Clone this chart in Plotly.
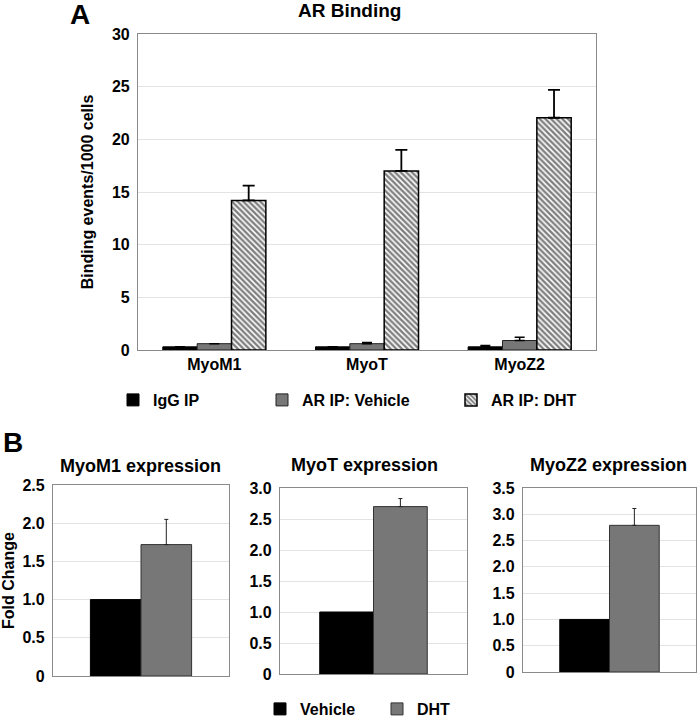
import plotly.graph_objects as go

W, H = 697, 720

# ---------------- data ----------------
genes = ["MyoM1", "MyoT", "MyoZ2"]
igg_ip = [0.3, 0.3, 0.3]
igg_err = [0.0, 0.0, 0.12]
ar_vehicle = [0.6, 0.6, 0.9]
ar_vehicle_err = [0.0, 0.12, 0.3]
ar_dht = [14.2, 17.0, 22.05]
ar_dht_err = [1.4, 2.0, 2.65]
a_ticks = [0, 5, 10, 15, 20, 25, 30]

expr_titles = ["MyoM1 expression", "MyoT expression", "MyoZ2 expression"]
expr_vehicle = [1.0, 1.0, 1.0]
expr_dht = [1.72, 2.70, 2.79]
expr_dht_err = [0.33, 0.13, 0.32]
expr_ymax = [2.5, 3.0, 3.5]
expr_ticks = [[0, 0.5, 1.0, 1.5, 2.0, 2.5],
              [0, 0.5, 1.0, 1.5, 2.0, 2.5, 3.0],
              [0, 0.5, 1.0, 1.5, 2.0, 2.5, 3.0, 3.5]]
expr_ticktext = [["0" if v == 0 else f"{v:.1f}" for v in t] for t in expr_ticks]

FONT = "Liberation Sans, Arial, sans-serif"
GRID = "#e3e3e3"
AXLINE = "#8a8a8a"
GRAY = "#777777"


def px_x(p):
    return p / W


def px_y(p):
    return 1 - p / H


fig = go.Figure()

# ---------------- Panel A ----------------
fig.add_trace(go.Bar(
    x=genes, y=igg_ip, name="IgG IP", legend="legend",
    marker=dict(color="black", line=dict(color="black", width=1)),
    error_y=dict(type="data", array=igg_err, arrayminus=[0] * 3, symmetric=False,
                 color="black", thickness=1.5, width=5),
    xaxis="x", yaxis="y"))
fig.add_trace(go.Bar(
    x=genes, y=ar_vehicle, name="AR IP: Vehicle", legend="legend2",
    marker=dict(color=GRAY, line=dict(color="#222", width=1)),
    error_y=dict(type="data", array=ar_vehicle_err, arrayminus=[0] * 3, symmetric=False,
                 color="black", thickness=1.5, width=5),
    xaxis="x", yaxis="y"))
fig.add_trace(go.Bar(
    x=genes, y=ar_dht, name="AR IP: DHT", legend="legend3",
    marker=dict(color="white", line=dict(color="black", width=1.5),
                pattern=dict(shape="\\", fgcolor="black", bgcolor="white",
                             size=4, solidity=0.6)),
    error_y=dict(type="data", array=ar_dht_err, arrayminus=[0] * 3, symmetric=False,
                 color="black", thickness=1.8, width=6),
    xaxis="x", yaxis="y"))

# ---------------- Panel B ----------------
b_domains_x = [[53, 229], [280, 467], [523, 696]]
b_domains_y = [[485, 676], [488, 674], [488, 672]]
for i in range(3):
    ax = str(i + 2)
    fig.add_trace(go.Bar(
        x=[expr_titles[i]], y=[expr_vehicle[i]], name="Vehicle",
        legend="legend4", showlegend=(i == 0),
        marker=dict(color="black", line=dict(color="black", width=1)),
        xaxis="x" + ax, yaxis="y" + ax))
    fig.add_trace(go.Bar(
        x=[expr_titles[i]], y=[expr_dht[i]], name="DHT",
        legend="legend5", showlegend=(i == 0),
        marker=dict(color=GRAY, line=dict(color="#333", width=1)),
        error_y=dict(type="data", array=[expr_dht_err[i]], arrayminus=[0], symmetric=False,
                     color="#222", thickness=1, width=2),
        xaxis="x" + ax, yaxis="y" + ax))

tickfont = dict(family=FONT, size=16, color="black", weight="bold")

layout = dict(
    width=W, height=H,
    margin=dict(l=0, r=0, t=0, b=0, autoexpand=False),
    paper_bgcolor="white", plot_bgcolor="white",
    showlegend=True,
    barmode="group", bargap=0.325, bargroupgap=0,
    font=dict(family=FONT, color="black"),
    xaxis=dict(domain=[px_x(138), px_x(596)], anchor="y", automargin=False,
               showline=True, linecolor=AXLINE, linewidth=1.2, mirror=True,
               ticks="", tickfont=tickfont, showgrid=False, fixedrange=True),
    yaxis=dict(domain=[px_y(350), px_y(34)], anchor="x", range=[0, 30], automargin=False,
               tickvals=a_ticks, ticktext=[str(v) for v in a_ticks],
               showline=True, linecolor=AXLINE, linewidth=1.2, mirror=True,
               showgrid=True, gridcolor=GRID, gridwidth=1, zeroline=False,
               ticks="", tickfont=tickfont, ticklabelstandoff=4, fixedrange=True,
               title=dict(text="Binding events/1000 cells",
                          font=dict(family=FONT, size=16, color="black", weight="bold"),
                          standoff=14)),
)

for i in range(3):
    n = str(i + 2)
    layout["xaxis" + n] = dict(
        domain=[px_x(b_domains_x[i][0]), px_x(b_domains_x[i][1])], anchor="y" + n,
        range=[-0.587, 0.587], showticklabels=False, ticks="", automargin=False,
        showline=True, linecolor=AXLINE, linewidth=1.2, mirror=True,
        showgrid=False, fixedrange=True)
    ya = dict(
        domain=[px_y(b_domains_y[i][1]), px_y(b_domains_y[i][0])], anchor="x" + n,
        range=[0, expr_ymax[i]], tickvals=expr_ticks[i], ticktext=expr_ticktext[i],
        showline=True, linecolor=AXLINE, linewidth=1.2, mirror=True, automargin=False,
        showgrid=True, gridcolor=GRID, zeroline=False, ticks="",
        tickfont=tickfont, ticklabelstandoff=4, fixedrange=True)
    if i == 0:
        ya["title"] = dict(text="Fold Change",
                           font=dict(family=FONT, size=16, color="black", weight="bold"),
                           standoff=10)
    layout["yaxis" + n] = ya

legfont = dict(family=FONT, size=16, color="black", weight="bold")
leg_specs = [("legend", 113, 400), ("legend2", 262, 400), ("legend3", 451, 400),
             ("legend4", 260, 709), ("legend5", 377, 709)]
for key, lx, ly in leg_specs:
    layout[key] = dict(x=px_x(lx), y=px_y(ly), xanchor="left", yanchor="middle",
                       xref="paper", yref="paper", visible=True,
                       orientation="h", font=legfont, bgcolor="rgba(0,0,0,0)",
                       borderwidth=0)


def ann(text, x, y, size):
    return dict(text=text, x=px_x(x), y=px_y(y), xref="paper", yref="paper",
                xanchor="center", yanchor="middle", showarrow=False,
                font=dict(family=FONT, size=size, color="black", weight="bold"))


annotations = [ann("A", 80, 14, 28), ann("B", 13, 442, 28), ann("AR Binding", 349, 11, 19)]
title_pos = [(140, 466), (364, 465), (608, 465)]
for t, (tx, ty) in zip(expr_titles, title_pos):
    annotations.append(ann(t, tx, ty, 18))
layout["annotations"] = annotations

fig.update_layout(**layout)
fig.write_html("out.html",
               config={"displayModeBar": False},
               post_script="document.body.style.margin='0';document.body.style.padding='0';")
